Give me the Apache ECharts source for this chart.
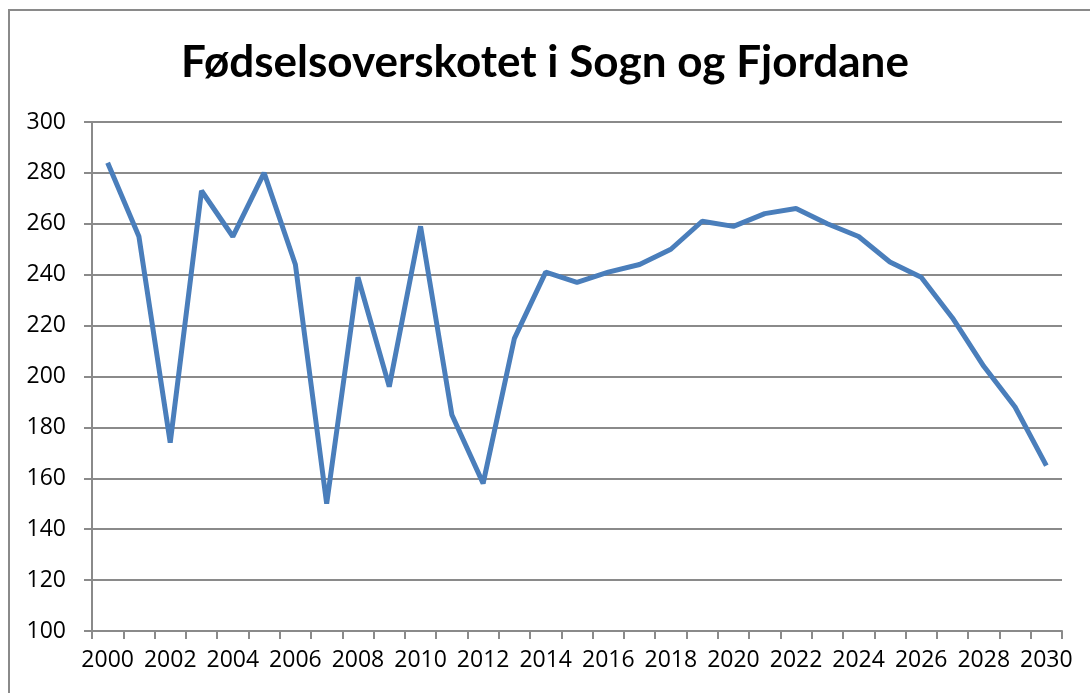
<!DOCTYPE html>
<html>
<head>
<meta charset="utf-8">
<script src="https://cdn.jsdelivr.net/npm/echarts@6/dist/echarts.min.js"></script>
<style>
html, body { margin: 0; padding: 0; background: #fff; }
#chart { width: 1090px; height: 693px; }
</style>
</head>
<body>
<div id="chart"></div>
<script>
// år og fødselsoverskot (avlese frå figuren)
const years = [];
for (let y = 2000; y <= 2030; y++) years.push(String(y));
const surplus = [284, 255, 174, 273, 255, 280, 244, 150, 239, 196,
                 259, 185, 158, 215, 241, 237, 241, 244, 250, 261,
                 259, 264, 266, 260, 255, 245, 239, 223, 204, 188, 165];
const yTicks = { min: 100, max: 300, step: 20 };

const myChart = echarts.init(document.getElementById('chart'));
const gray = '#8a8a8a';
const labelFont = '"Open Sans", sans-serif';

const option = {
    animation: false,
    backgroundColor: '#fff',
    title: {
        text: 'Fødselsoverskotet i Sogn og Fjordane',
        left: 'center',
        top: 36,
        textStyle: { fontFamily: 'Lato, sans-serif', fontSize: 44, fontWeight: 'bold', color: '#000' }
    },
    graphic: [{
        type: 'rect',
        shape: { x: 9, y: 10, width: 1200, height: 800 },
        style: { fill: 'none', stroke: gray, lineWidth: 2 },
        silent: true
    }],
    grid: { left: 92, right: 28, top: 122, bottom: 62 },
    xAxis: {
        type: 'category',
        data: years,
        boundaryGap: true,
        axisLine: { lineStyle: { color: gray, width: 2 } },
        axisTick: { show: true, interval: 0, length: 8, lineStyle: { color: gray, width: 2 } },
        axisLabel: { interval: 1, color: '#000', fontFamily: labelFont, fontSize: 23, margin: 18 },
        splitLine: { show: false }
    },
    yAxis: {
        type: 'value',
        min: yTicks.min,
        max: yTicks.max,
        interval: yTicks.step,
        axisLine: { show: true, lineStyle: { color: gray, width: 2 } },
        axisTick: { show: true, length: 8, lineStyle: { color: gray, width: 2 } },
        axisLabel: { color: '#000', fontFamily: labelFont, fontSize: 23, margin: 26 },
        splitLine: { lineStyle: { color: gray, width: 2 } }
    },
    series: [{
        type: 'line',
        data: surplus,
        showSymbol: false,
        lineStyle: { color: '#4a7ebb', width: 5 },
        itemStyle: { color: '#4a7ebb' }
    }]
};

myChart.setOption(option);
</script>
</body>
</html>
